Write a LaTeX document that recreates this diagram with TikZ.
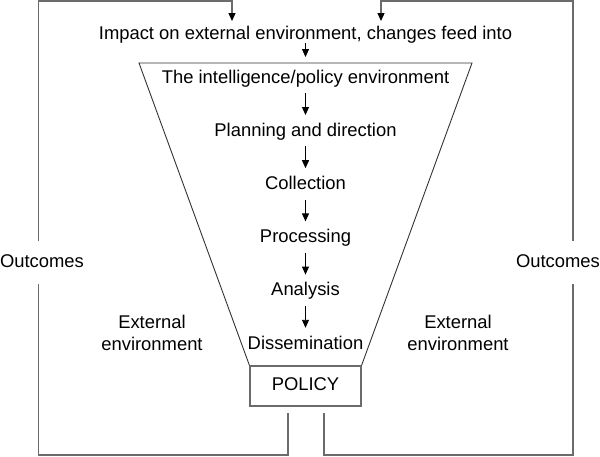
\documentclass[tikz,border=0pt]{standalone}
\usepackage{fontspec}
\setmainfont{Liberation Sans}
\usetikzlibrary{arrows.meta,calc}
\definecolor{LineClr}{rgb}{0.42,0.42,0.42}
\definecolor{EdgeClr}{rgb}{0.2,0.2,0.2}

\begin{document}
\begin{tikzpicture}[x=1pt,y=-1pt,
  every node/.style={font=\fontsize{18.4}{21.5}\selectfont,inner sep=0pt},
  label text/.style={text height=13pt,text depth=4pt},
  env text/.style={align=center},
  flow/.style={-{Triangle[length=8pt,width=7pt]},line width=0.9pt,black},
  loopline/.style={line width=1.2pt,color=LineClr},
  feedin/.style={loopline,-{Triangle[length=8pt,width=7pt,color=black]}}]
\useasboundingbox (0,0) rectangle (600,456);

\node[label text] (impact) at (305.5,34.5) {Impact on external environment, changes feed into};

\node[label text] (envir) at (305.5,78.5) {The intelligence/policy environment};
\node[label text] (plan) at (305.5,131.7) {Planning and direction};
\node[label text] (coll) at (305.5,184.9) {Collection};
\node[label text] (proc) at (305.5,238.1) {Processing};
\node[label text] (anal) at (305.5,291.3) {Analysis};
\node[label text] (diss) at (305.5,344.5) {Dissemination};

\node[label text,draw=LineClr,line width=1.1pt,minimum width=111pt,minimum height=40pt] (policy) at (305.5,386) {POLICY};

\node[env text] (extl) at (152,333) {External\\environment};
\node[env text] (extr) at (458,333) {External\\environment};

\node[label text,minimum height=43pt] (outl) at (42,262.5) {Outcomes};
\node[label text,minimum height=43pt] (outr) at (558,262.5) {Outcomes};

\coordinate (ftl) at (139,63);
\coordinate (ftr) at (472,63);
\coordinate (ftop) at (305.5,63);
\draw[line width=0.9pt,EdgeClr] (policy.north west) -- (ftl) -- (ftr) -- (policy.north east);

\draw[flow,shorten >=6pt] (impact) -- (ftop);
\foreach \a/\b in {envir/plan,plan/coll,coll/proc,proc/anal,anal/diss}
  \draw[flow,shorten <=6pt,shorten >=8pt] (\a) -- (\b);

\coordinate (lstart) at (288,413);
\coordinate (rstart) at (324,413);
\coordinate (lcorner) at (38.5,455);
\coordinate (rcorner) at (573,455);
\coordinate (ltop) at (38.5,1);
\coordinate (rtop) at (573,1);
\coordinate (lin) at (232,21);
\coordinate (rin) at (381,21);

\draw[loopline] (lstart) |- (lcorner) -- (lcorner |- outl.south);
\draw[feedin] (lcorner |- outl.north) -- (ltop) -| (lin);
\draw[loopline] (rstart) |- (rcorner) -- (rcorner |- outr.south);
\draw[feedin] (rcorner |- outr.north) -- (rtop) -| (rin);

\end{tikzpicture}
\end{document}
